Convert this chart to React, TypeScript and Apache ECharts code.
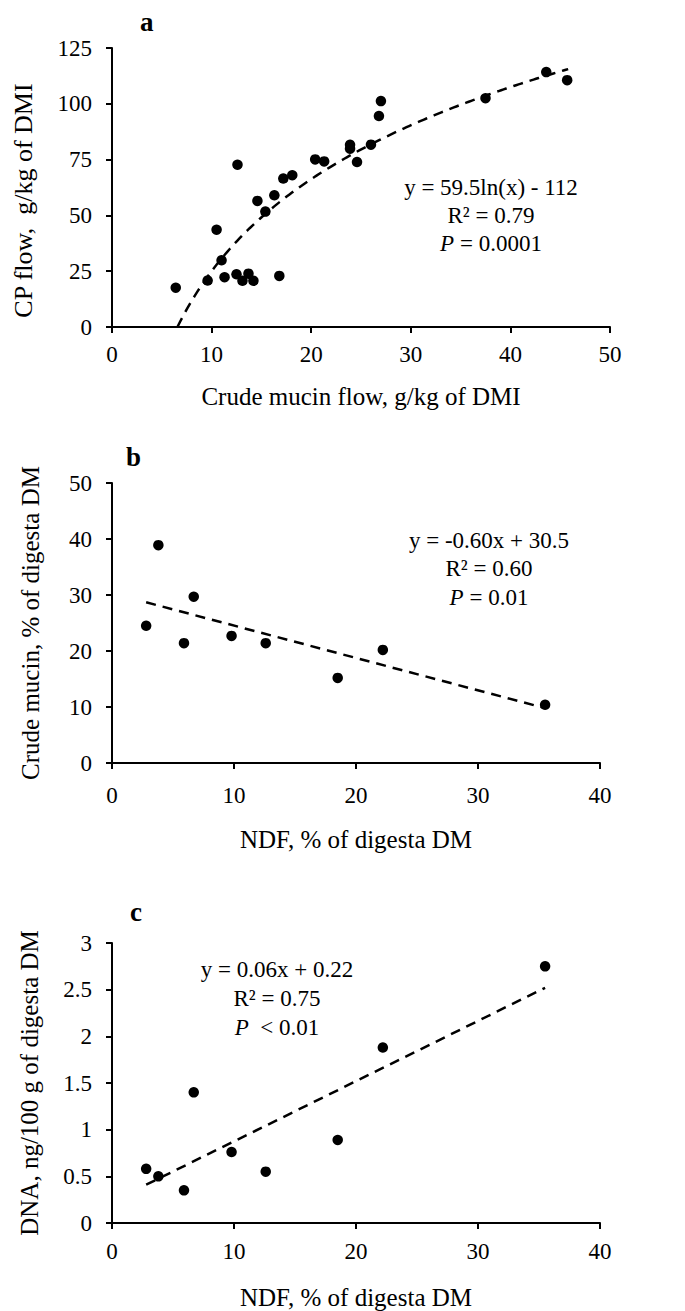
import React, { useEffect, useRef } from "react";
import * as echarts from "echarts";

// Panel a: crude mucin flow vs CP flow (g/kg of DMI)
const mucinFlow = [6.4, 9.6, 10.5, 11.0, 11.3, 12.5, 12.6, 13.1, 13.7, 14.2, 14.6, 15.4, 16.3, 16.8, 17.2, 18.1, 20.4, 21.3, 23.9, 23.9, 24.6, 26.0, 26.8, 27.0, 37.5, 43.6, 45.7];
const cpFlow = [17.6, 20.8, 43.6, 29.9, 22.3, 23.6, 72.7, 20.7, 23.9, 20.7, 56.5, 51.7, 59.0, 22.9, 66.5, 68.0, 75.1, 74.2, 81.6, 79.9, 73.9, 81.7, 94.5, 101.2, 102.5, 114.2, 110.6];
// log fit y = 59.5 ln(x) - 112, drawn from y = 0 to the last point
const trendACoef = [59.5, -112];
const trendARange = [6.57, 45.8];

// Panels b and c share NDF (% of digesta DM)
const ndf = [2.8, 3.8, 5.9, 6.7, 9.8, 12.6, 18.5, 22.2, 35.5];
const crudeMucin = [24.5, 38.9, 21.4, 29.7, 22.7, 21.4, 15.2, 20.2, 10.4];
const dna = [0.58, 0.5, 0.35, 1.4, 0.76, 0.55, 0.89, 1.88, 2.75];
const trendB = [[2.8, 28.7], [35.5, 9.8]];
const trendC = [[2.8, 0.41], [35.5, 2.52]];

const FONT = "'Liberation Serif', 'Times New Roman', serif";

function axis(gridIndex: number, min: number, max: number, interval: number, name: string, nameGap: number, labelMargin: number, nameExtra: any = {}) {
  return {
    type: "value",
    gridIndex,
    min,
    max,
    interval,
    name,
    nameLocation: "middle",
    nameGap,
    nameTextStyle: { fontFamily: FONT, fontSize: 25, color: "#000", ...nameExtra },
    axisLine: { show: true, onZero: false, lineStyle: { color: "#000", width: 2 } },
    axisTick: { show: true, inside: false, length: 6, lineStyle: { color: "#000", width: 2 } },
    axisLabel: { fontFamily: FONT, fontSize: 23, color: "#000", margin: labelMargin },
    splitLine: { show: false },
  };
}

function eqLine(text: string, x: number, y: number) {
  return {
    type: "text",
    silent: true,
    style: {
      text,
      x,
      y,
      align: "center",
      verticalAlign: "middle",
      fontFamily: FONT,
      fontSize: 23,
      fill: "#000",
      rich: {
        i: { fontFamily: FONT, fontSize: 23, fontStyle: "italic", fill: "#000" },
      },
    },
  };
}

function letter(text: string, x: number, y: number) {
  return {
    type: "text",
    silent: true,
    style: { text, x, y, align: "left", verticalAlign: "middle", fontFamily: FONT, fontSize: 27, fontWeight: "bold", fill: "#000" },
  };
}

export default function App() {
  const ref = useRef<HTMLDivElement>(null);
  useEffect(() => {
    document.body.style.margin = "0";
    if (!ref.current) return;
    const chart = echarts.init(ref.current, undefined, { renderer: "svg" });

    const curveA: number[][] = [];
    for (let x = trendARange[0]; x < trendARange[1]; x += 0.25) {
      curveA.push([x, trendACoef[0] * Math.log(x) + trendACoef[1]]);
    }
    curveA.push([trendARange[1], trendACoef[0] * Math.log(trendARange[1]) + trendACoef[1]]);

    const dashed = { color: "#000", width: 2.5, type: [10, 7] };
    const dot = { color: "#000", opacity: 1 };

    chart.setOption({
      animation: false,
      backgroundColor: "#fff",
      grid: [
        { left: 112, top: 48, width: 498, height: 279 },
        { left: 112, top: 483, width: 488, height: 280 },
        { left: 112, top: 943, width: 488, height: 280 },
      ],
      xAxis: [
        axis(0, 0, 50, 10, "Crude mucin flow, g/kg of DMI", 57, 16),
        axis(1, 0, 40, 10, "NDF, % of digesta DM", 64, 21),
        axis(2, 0, 40, 10, "NDF, % of digesta DM", 62, 17),
      ],
      yAxis: [
        axis(0, 0, 125, 25, "CP flow,  g/kg of DMI", 76, 20, { fontSize: 26, padding: [0, 26, 0, 0] }),
        axis(1, 0, 50, 10, "Crude mucin, % of digesta DM", 69, 20),
        axis(2, 0, 3, 0.5, "DNA, ng/100 g of digesta DM", 70, 20),
      ],
      series: [
        {
          type: "line", xAxisIndex: 0, yAxisIndex: 0, data: curveA, showSymbol: false, symbol: "none",
          lineStyle: dashed, z: 1, silent: true,
        },
        {
          type: "scatter", xAxisIndex: 0, yAxisIndex: 0, symbolSize: 10.5, itemStyle: dot, z: 2,
          data: mucinFlow.map((x, i) => [x, cpFlow[i]]),
        },
        {
          type: "line", xAxisIndex: 1, yAxisIndex: 1, data: trendB, showSymbol: false, symbol: "none",
          lineStyle: dashed, z: 1, silent: true,
        },
        {
          type: "scatter", xAxisIndex: 1, yAxisIndex: 1, symbolSize: 10.5, itemStyle: dot, z: 2,
          data: ndf.map((x, i) => [x, crudeMucin[i]]),
        },
        {
          type: "line", xAxisIndex: 2, yAxisIndex: 2, data: trendC, showSymbol: false, symbol: "none",
          lineStyle: dashed, z: 1, silent: true,
        },
        {
          type: "scatter", xAxisIndex: 2, yAxisIndex: 2, symbolSize: 10.5, itemStyle: dot, z: 2,
          data: ndf.map((x, i) => [x, dna[i]]),
        },
      ],
      graphic: [
        letter("a", 140, 22),
        letter("b", 126, 457),
        letter("c", 130, 912),
        eqLine("y = 59.5ln(x) - 112", 491, 187),
        eqLine("R² = 0.79", 491, 215),
        eqLine("{i|P} = 0.0001", 491, 243),
        eqLine("y = -0.60x + 30.5", 489, 540),
        eqLine("R² = 0.60", 489, 568),
        eqLine("{i|P} = 0.01", 489, 597),
        eqLine("y = 0.06x + 0.22", 277, 969),
        eqLine("R² = 0.75", 277, 998),
        eqLine("{i|P}  < 0.01", 277, 1027),
      ],
    });
    return () => chart.dispose();
  }, []);
  return <div ref={ref} style={{ width: 685, height: 1311 }} />;
}
